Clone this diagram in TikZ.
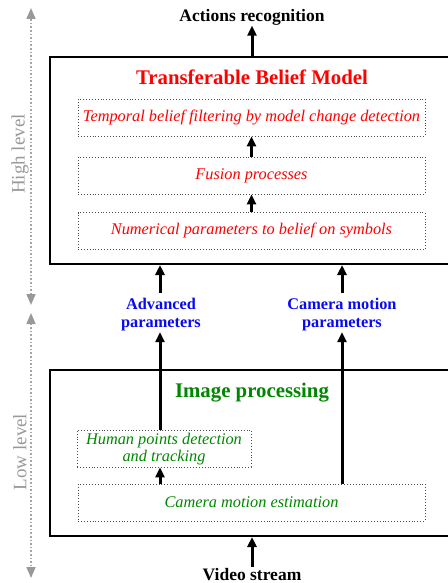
\documentclass[tikz,border=0pt]{standalone}
\usepackage{fontspec}
\setmainfont{Liberation Serif}
\usetikzlibrary{arrows.meta}
\definecolor{tgreen}{RGB}{0,135,0}
\definecolor{tred}{RGB}{255,0,0}
\definecolor{tblue}{RGB}{10,10,240}
\begin{document}
\begin{tikzpicture}[x=1pt,y=-1pt,
  bigbox/.style={draw=black,line width=2pt,anchor=north west,inner sep=0pt},
  dbox/.style={draw=black!70,dotted,line width=0.9pt,inner sep=0pt,align=center,
    font=\fontsize{16.3}{17}\selectfont\itshape},
  arr/.style={line width=3pt,-{Triangle[width=9pt,length=10pt]}},
  title/.style={font=\fontsize{20.8}{22}\selectfont\bfseries},
  lab/.style={font=\fontsize{16.3}{18}\selectfont\bfseries,align=center,inner sep=0pt},
  endlab/.style={font=\fontsize{17.5}{19}\selectfont\bfseries,inner sep=0pt},
  axis/.style={draw=black!35,dotted,line width=1.6pt,
    {Triangle[width=9pt,length=11pt,black!40]}-{Triangle[width=9pt,length=11pt,black!40]}},
  axlab/.style={font=\fontsize{19}{20}\selectfont,text=black!40,rotate=90,inner sep=0pt}]
\useasboundingbox (0,0) rectangle (447,583);
% top / bottom labels
\node[endlab] (act) at (252,17.5) {Actions recognition};
\node[endlab] (vid) at (252,574.5) {Video stream};
% big boxes
\node[bigbox,minimum width=420pt,minimum height=207pt] (tbm) at (49,56) {};
\node[bigbox,minimum width=420pt,minimum height=166pt] (img) at (49,369) {};
\node[title,text=tred] (tbmt) at (252,77.5) {Transferable Belief Model};
\node[title,text=tgreen] (imgt) at (252,393) {Image processing};
% TBM inner boxes
\node[dbox,text=tred,minimum width=347pt,minimum height=37pt] (temp) at (251.5,117.5) {Temporal belief filtering by model change detection};
\node[dbox,text=tred,minimum width=347pt,minimum height=37pt] (fus) at (251.5,175.5) {Fusion processes};
\node[dbox,text=tred,minimum width=347pt,minimum height=37pt] (num) at (251.5,231) {Numerical parameters to belief on symbols};
% image processing inner boxes
\node[dbox,text=tgreen,minimum width=174pt,minimum height=37pt] (hum) at (164,448.5) {\rule{0pt}{13pt}Human points detection\\and tracking};
\node[dbox,text=tgreen,minimum width=347pt,minimum height=37pt] (cme) at (251.5,502.5) {Camera motion estimation};
% parameter labels
\node[lab,text=tblue] (adv) at (161,314.5) {Advanced\\parameters};
\node[lab,text=tblue] (cam) at (342,314.5) {Camera motion\\parameters};
% connectors
\draw[arr] (tbm.north -| act) -- (act.south);
\draw[arr] (fus.north) -- (temp.south);
\draw[arr] (num.north) -- (fus.south);
\draw[arr,shorten <=5pt] (adv.north -| 160,0) -- (tbm.south -| 160,0);
\draw[arr,shorten <=5pt] (cam.north) -- (cam.north |- tbm.south);
\draw[arr] (hum.north -| 160,0) -- ([yshift=-1pt]adv.south -| 160,0);
\draw[arr] (cme.north -| cam) -- ([yshift=-1pt]cam.south);
\draw[arr] (cme.north -| 160,0) -- (hum.south -| 160,0);
\draw[arr,shorten <=1pt] (vid.north) -- (vid.north |- img.south);
% level axis
\coordinate (h1) at (31,305);
\coordinate (h2) at (31,8);
\coordinate (l1) at (31,313);
\coordinate (l2) at (31,578);
\draw[axis] (h1) -- (h2);
\draw[axis] (l1) -- (l2);
\node[axlab] (hl) at (20,154) {High level};
\node[axlab] (ll) at (20,452) {Low level};
\end{tikzpicture}
\end{document}
